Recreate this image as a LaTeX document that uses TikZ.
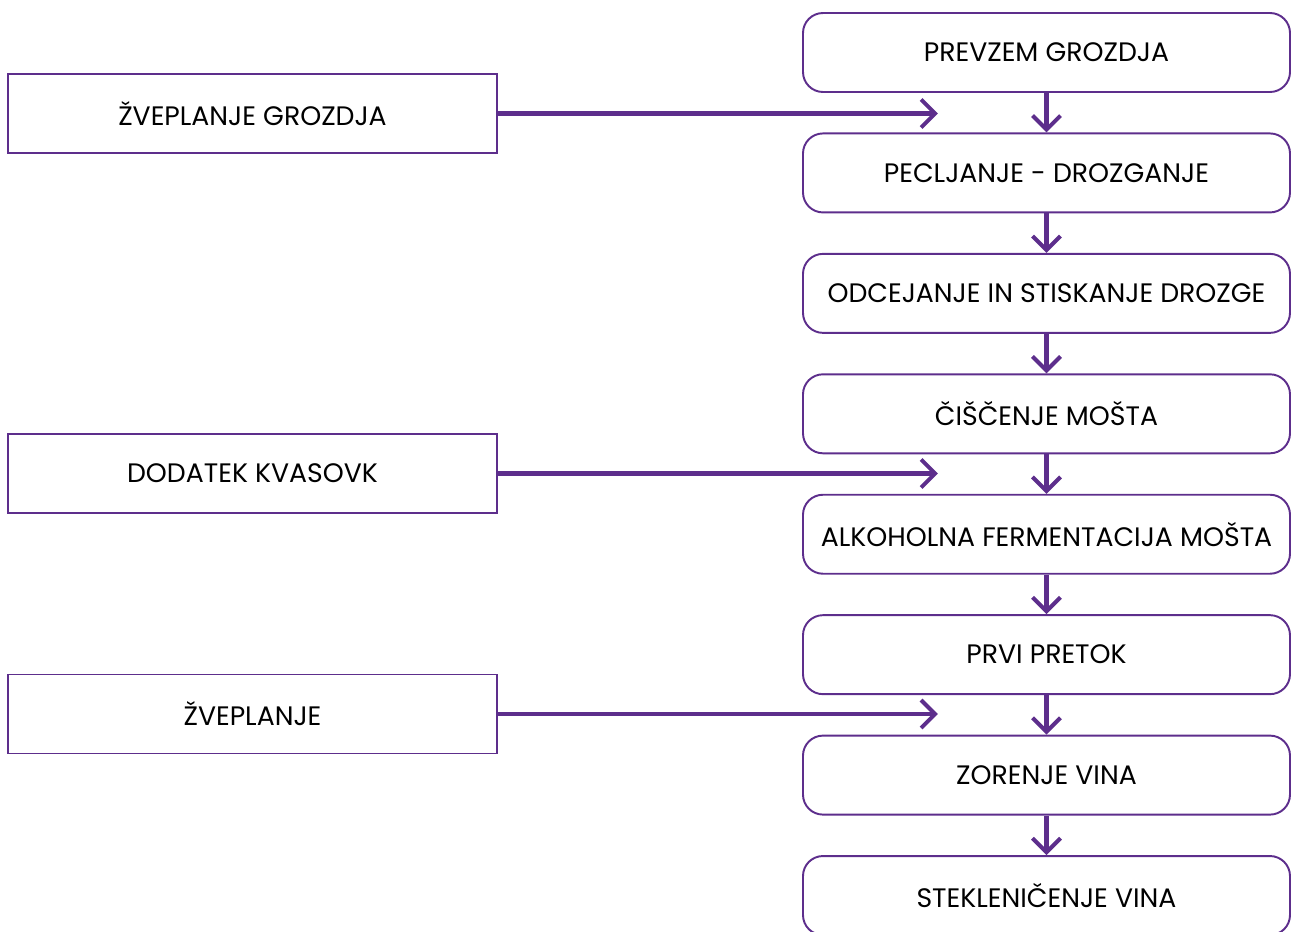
\documentclass[tikz,border=0pt]{standalone}
\usepackage{fontspec}
\setmainfont{Poppins}
\usetikzlibrary{positioning, arrows.meta}
\definecolor{grape}{RGB}{93,46,140}
\tikzset{
>={Straight Barb[length=0.28cm, width=0.56cm]}, % open chevron heads
node distance=0.79cm, % gap between two process steps
stage/.style={rectangle, rounded corners=0.4cm, draw=grape, line width=1.1pt, minimum width=9.74cm, minimum height=1.58cm, inner sep=0pt, font=\fontsize{15.2}{17}\selectfont}, % main process step
addition/.style={rectangle, draw=grape, line width=1.1pt, minimum width=9.78cm, minimum height=1.58cm, inner sep=0pt, font=\fontsize{15.2}{17}\selectfont}, % side treatment
flow/.style={->, draw=grape, line width=2.3pt}, % connectors
}
\begin{document}
\begin{tikzpicture}
\useasboundingbox (0,0) rectangle (25.82,-18.64);
\node[stage] (receive) at (20.93,-1.05) {PREVZEM GROZDJA};
\node[stage, below=of receive] (destem) {PECLJANJE - DROZGANJE};
\node[stage, below=of destem] (press) {ODCEJANJE IN STISKANJE DROZGE};
\node[stage, below=of press] (clear) {ČIŠČENJE MOŠTA};
\node[stage, below=of clear] (ferment) {ALKOHOLNA FERMENTACIJA MOŠTA};
\node[stage, below=of ferment] (rack) {PRVI PRETOK};
\node[stage, below=of rack] (mature) {ZORENJE VINA};
\node[stage, below=of mature] (bottle) {STEKLENIČENJE VINA};

\node[addition] (sulfgrape) at (5.05,-2.27) {ŽVEPLANJE GROZDJA};
\node[addition] (yeast) at (5.05,-9.47) {DODATEK KVASOVK};
\node[addition] (sulfwine) at (5.05,-14.28) {ŽVEPLANJE};

\coordinate[right=8.8cm of sulfgrape.east] (into1);
\coordinate[right=8.8cm of yeast.east] (into2);
\coordinate[right=8.8cm of sulfwine.east] (into3);

\draw[flow] (receive) -- (destem);
\draw[flow] (destem) -- (press);
\draw[flow] (press) -- (clear);
\draw[flow] (clear) -- (ferment);
\draw[flow] (ferment) -- (rack);
\draw[flow] (rack) -- (mature);
\draw[flow] (mature) -- (bottle);

\draw[flow] (sulfgrape) -- (into1);
\draw[flow] (yeast) -- (into2);
\draw[flow] (sulfwine) -- (into3);
\end{tikzpicture}
\end{document}
